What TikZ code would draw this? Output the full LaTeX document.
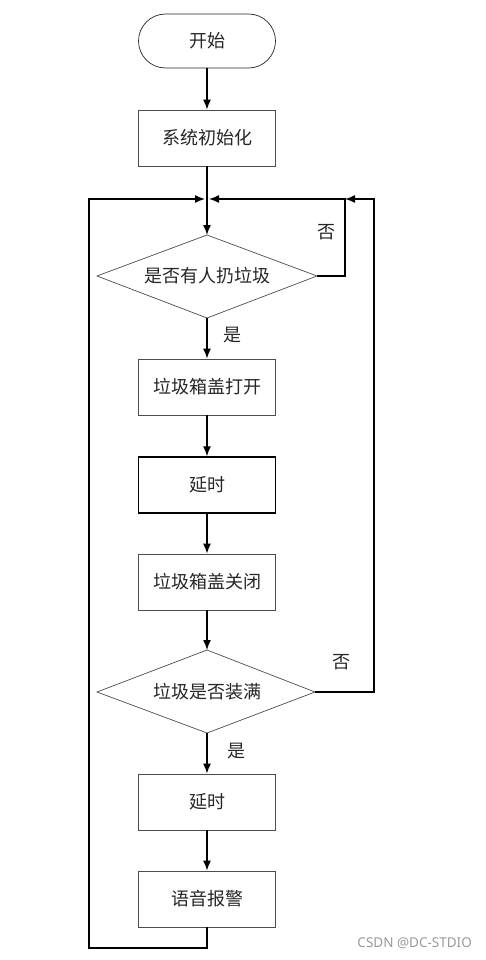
\documentclass[tikz,border=0pt]{standalone}
\usepackage{fontspec}
\newfontfamily\cjk{Noto Sans CJK SC}
\newfontfamily\wm{Noto Sans}
\usetikzlibrary{arrows.meta}
\begin{document}
\begin{tikzpicture}[x=1pt,y=-1pt,
  every node/.style={font=\cjk\fontsize{18}{22}\selectfont,text=black!85},
  procbox/.style={draw=black!70,line width=0.7pt,minimum width=137pt,minimum height=56pt,inner sep=0pt},
  boldbox/.style={procbox,draw=black,line width=1.3pt},
  termbox/.style={procbox,draw=black!85,rounded corners=27pt,minimum height=54pt},
  decision/.style={draw=black!70,line width=0.7pt},
  conn/.style={line width=1.4pt,-{Latex[length=10pt,width=8pt]}},
  line/.style={line width=1.4pt},
  lbl/.style={inner sep=0pt}
]
\useasboundingbox (0,0) rectangle (486,960);
\fill[white] (0,0) rectangle (486,960);

\node[termbox] (start) at (207,41) {开始};
\node[procbox] (init) at (207,138) {系统初始化};
\coordinate (J) at (207,199);

% diamond 1
\coordinate (d1t) at (207,235);
\coordinate (d1b) at (207,318);
\coordinate (d1l) at (97,276);
\coordinate (d1r) at (317,276);
\draw[decision] (d1t) -- (d1r) -- (d1b) -- (d1l) -- cycle;
\node (d1) at (207,276) {是否有人扔垃圾};

\node[procbox] (open) at (207,387) {垃圾箱盖打开};
\node[boldbox] (delay1) at (207,485) {延时};
\node[procbox] (close) at (207,582) {垃圾箱盖关闭};

% diamond 2
\coordinate (d2t) at (207,650);
\coordinate (d2b) at (207,733);
\coordinate (d2l) at (97,692);
\coordinate (d2r) at (315,692);
\draw[decision] (d2t) -- (d2r) -- (d2b) -- (d2l) -- cycle;
\node (d2) at (207,692) {垃圾是否装满};

\node[procbox] (delay2) at (207,802) {延时};
\node[procbox] (alarm) at (207,899) {语音报警};

% connectors
\draw[conn] (start) -- (init);
\draw[line] (init) -- (J);
\draw[conn] (J) -- (d1t);
\draw[conn] (d1b) -- (open);
\draw[conn] (open) -- (delay1);
\draw[conn] (delay1) -- (close);
\draw[conn] (close) -- (d2t);
\draw[conn] (d2b) -- (delay2);
\draw[conn] (delay2) -- (alarm);

\coordinate (r1) at (345,199);
\coordinate (r2) at (374,199);
\coordinate (bl) at (89,948);
\draw[conn] (d1r) -- (345,276) -- (r1) -- ([xshift=2pt]J);
\draw[conn] (d2r) -- (374,692) -- (r2) -- (r1);
\draw[conn] (alarm.south) -- (207,948) -- (bl) -- (89,199) -- ([xshift=-2pt]J);

% labels
\node[lbl] (no1) at (326,232) {否};
\node[lbl] (yes1) at (232,335) {是};
\node[lbl] (no2) at (341,662) {否};
\node[lbl] (yes2) at (236,751) {是};

\node[lbl,font=\wm\fontsize{13.5}{16}\selectfont,text=black!40,anchor=east] (wmark) at (472,943) {CSDN @DC-STDIO};
\end{tikzpicture}
\end{document}
